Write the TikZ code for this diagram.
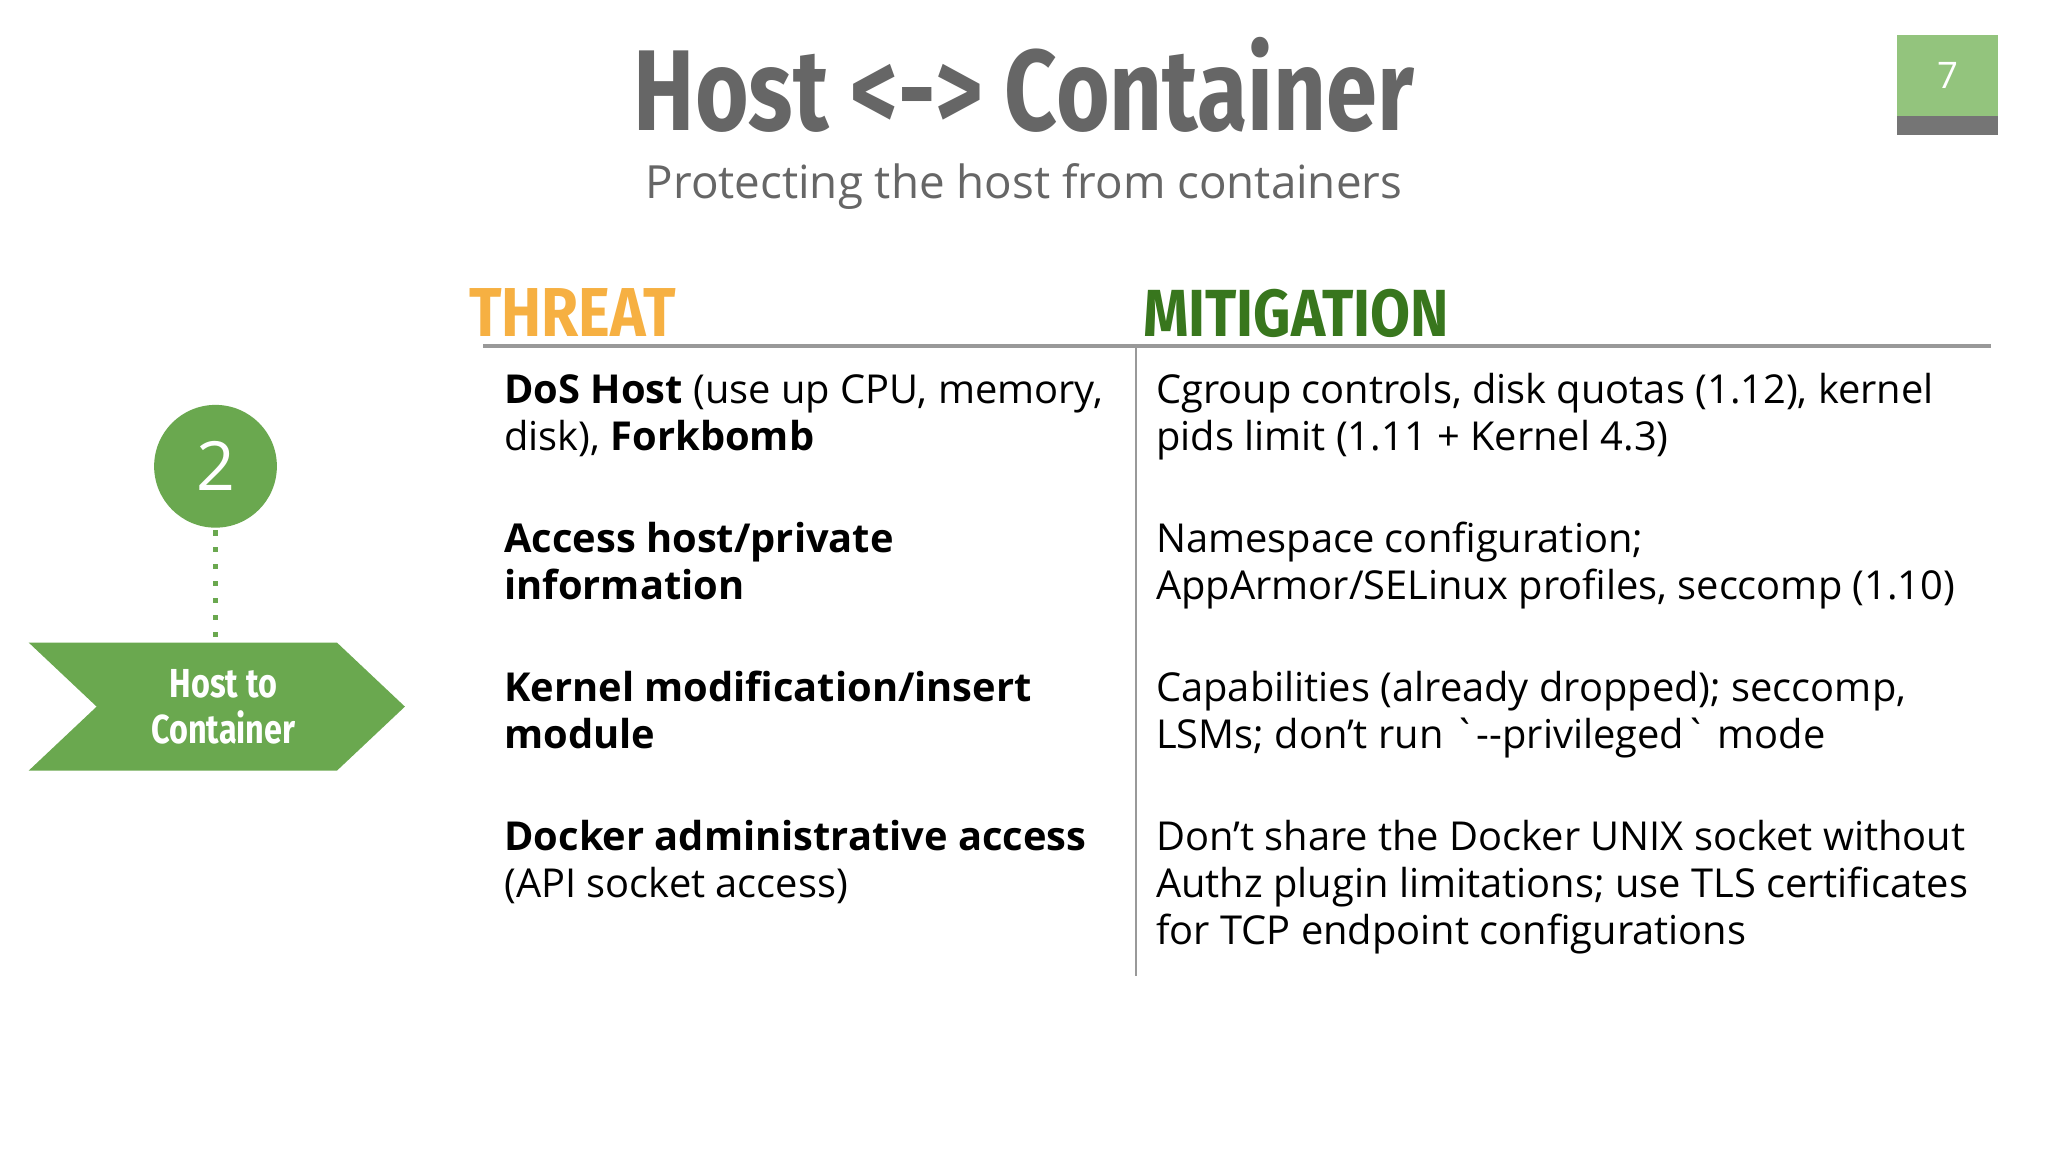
\documentclass[tikz,border=0pt]{standalone}
\usepackage{fontspec}
\setmainfont{Open Sans}
\newfontfamily\condf[FakeStretch=0.8]{Fira Sans}
\newfontfamily\condh[FakeStretch=0.87]{Fira Sans}
\definecolor{tgray}{HTML}{666666}
\definecolor{sgreen}{HTML}{6AA84F}
\definecolor{pgreen}{HTML}{93C47D}
\definecolor{mgreen}{HTML}{38761D}
\definecolor{orng}{HTML}{F6B042}
\definecolor{lgray}{HTML}{999999}
\newcommand{\rawtxt}[1]{{\addfontfeatures{Ligatures=TeXOff}#1}}
\tikzset{
  cell/.style={anchor=base west,align=left,inner sep=0pt,font=\fontsize{30.5}{36}\selectfont},
  head/.style={anchor=base west,inner sep=0pt,font=\condh\bfseries\fontsize{51}{51}\selectfont}
}
\begin{document}
\begin{tikzpicture}[x=1pt,y=-1pt]
\useasboundingbox[fill=white] (0,0) rectangle (1568,882);
\node[inner sep=0pt,text=tgray,font=\condf\bfseries\fontsize{88}{88}\selectfont,anchor=base] (title) at (784,100) {Host <-> Container};
\node[inner sep=0pt,text=tgray,font=\fontsize{35}{35}\selectfont,anchor=base] (sub) at (784,152) {Protecting the host from containers};
\fill[pgreen] (1452,27) rectangle (1530,89);
\fill[tgray!90] (1452,89) rectangle (1530,103);
\node[text=white,font=\fontsize{28}{28}\selectfont] (pg) at (1491,58) {7};
\node[head,text=orng,font=\condh\bfseries\fontsize{53}{53}\selectfont] (threat) at (359,258) {THREAT};
\node[head,text=mgreen] (mit) at (875,258) {MITIGATION};
\draw[lgray,line width=3.5pt] (370,265) -- (1524,265);
\draw[lgray,line width=1.5pt] (870,265) -- (870,747);
\node[circle,fill=sgreen,minimum size=94pt,inner sep=0pt,text=white,font=\fontsize{52}{52}\selectfont] (two) at (165,357) {2};
\fill[sgreen] (22,492) -- (258,492) -- (310,541) -- (258,590) -- (22,590) -- (74,541) -- cycle;
\node[text=white,align=center,font=\condf\bfseries\fontsize{31}{35}\selectfont] (chev) at (171,541) {Host to\\Container};
\coordinate (dtop) at (165,406);
\coordinate (dbot) at (165,490);
\draw[sgreen,line width=3.5pt,dash pattern=on 4pt off 9pt] (dtop) -- (dbot);
\node[cell] (t1) at (386,345) {\textbf{DoS Host} (use up CPU, memory,\\disk), \textbf{Forkbomb}};
\node[cell] (m1) at (885,345) {Cgroup controls, disk quotas (1.12), kernel\\pids limit (1.11 + Kernel 4.3)};
\node[cell] (t2) at (386,459) {\textbf{Access host/private}\\\textbf{information}};
\node[cell] (m2) at (885,459) {Namespace configuration;\\AppArmor/SELinux profiles, seccomp (1.10)};
\node[cell] (t3) at (386,573) {\textbf{Kernel modification/insert}\\\textbf{module}};
\node[cell] (m3) at (885,573) {Capabilities (already dropped); seccomp,\\LSMs; don’t run \rawtxt{`--privileged`} mode};
\node[cell] (t4) at (386,687) {\textbf{Docker administrative access}\\(API socket access)};
\node[cell] (m4) at (885,723) {Don’t share the Docker UNIX socket without\\Authz plugin limitations; use TLS certificates\\for TCP endpoint configurations};
\end{tikzpicture}
\end{document}
